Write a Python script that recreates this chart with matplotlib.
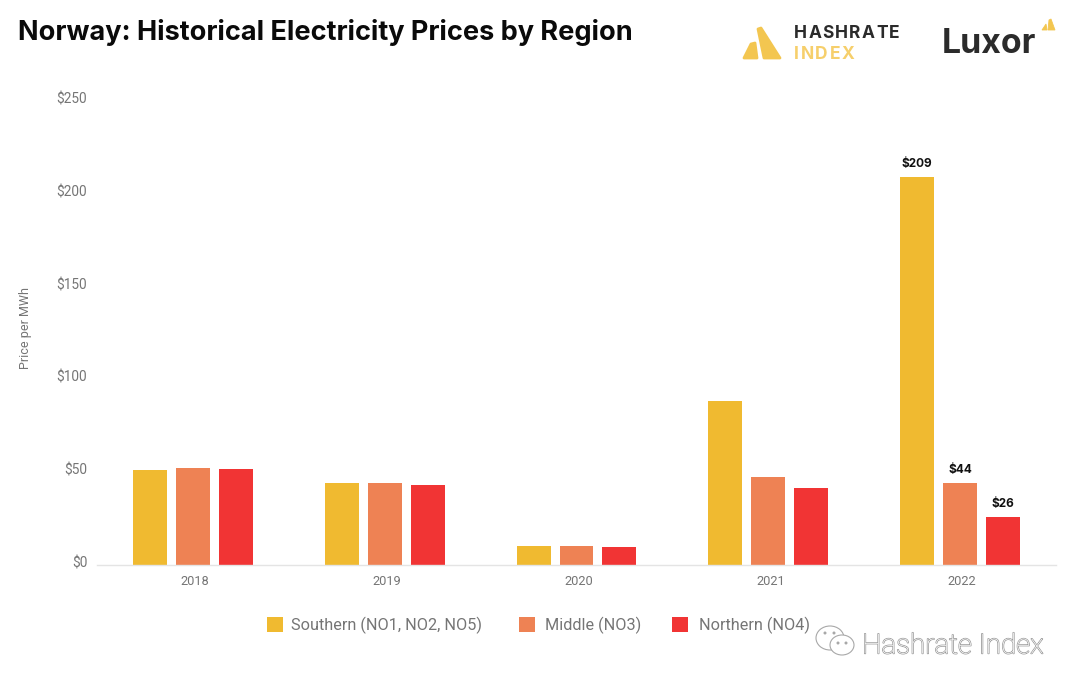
import matplotlib
matplotlib.use('Agg')
import matplotlib.pyplot as plt
import matplotlib.patheffects as pe
from matplotlib.patches import Polygon, Ellipse, Rectangle
from matplotlib.transforms import ScaledTranslation
import numpy as np

years = ['2018', '2019', '2020', '2021', '2022']
southern = [51.2, 44, 10, 88.5, 209]
middle = [52.1, 44, 10, 47.2, 44]
northern = [51.6, 43, 9.8, 41.6, 26]
series_names = ['Southern (NO1, NO2, NO5)', 'Middle (NO3)', 'Northern (NO4)']
colors = ['#F0BA30', '#EE8254', '#F13434']
yticks = [0, 50, 100, 150, 200, 250]
labels_2022 = ['$209', '$44', '$26']

W, H = 1080, 688
plt.rcParams['font.family'] = ['Roboto', 'DejaVu Sans']
plt.rcParams['text.parse_math'] = False

fig = plt.figure(figsize=(W / 100, H / 100), dpi=100, facecolor='white')
ax = fig.add_axes([97 / W, 1 - 565 / H, 959 / W, 464 / H])

x = np.arange(len(years))
width = 0.177
step = 0.224
for i, vals in enumerate([southern, middle, northern]):
    ax.bar(x + (i - 1) * step, vals, width, color=colors[i], label=series_names[i])

# 2022だけ値ラベルあり
for i, vals in enumerate([southern, middle, northern]):
    ax.annotate(labels_2022[i], (x[4] + (i - 1) * step, vals[4]), xytext=(0, 9.4),
                textcoords='offset points', ha='center', va='center',
                fontsize=8.5, fontweight='bold', color='#111111',
                family=['Inter', 'DejaVu Sans'])

ax.set_xlim(-0.5, 4.5)
ax.set_ylim(0, 250)
ax.set_xticks(x)
ax.set_xticklabels(years)
ax.set_yticks(yticks)
ax.set_yticklabels([f'${v}' for v in yticks])
ax.tick_params(axis='both', length=0, labelcolor='#757575')
ax.tick_params(axis='x', pad=7, labelsize=9.2)
ax.tick_params(axis='y', pad=7, labelsize=9.8)
# 目盛りラベルは少しずれている
for lab in ax.get_yticklabels():
    lab.set_transform(lab.get_transform() + ScaledTranslation(0, 3 / 100, fig.dpi_scale_trans))
for lab in ax.get_xticklabels():
    lab.set_transform(lab.get_transform() + ScaledTranslation(2 / 100, 0, fig.dpi_scale_trans))
for s in ['top', 'right', 'left']:
    ax.spines[s].set_visible(False)
ax.spines['bottom'].set_color('#E4E4E4')
ax.spines['bottom'].set_linewidth(1)

fig.text(26 / W, 1 - 328 / H, 'Price per MWh', rotation=90, ha='center', va='center',
         fontsize=9, color='#757575')

# 凡例は間隔が不揃いなので手で置く
legend_x = [267, 519, 672]
for i, name in enumerate(series_names):
    fig.add_artist(Rectangle((legend_x[i] / W, 1 - 632 / H), 16 / W, 15 / H,
                             transform=fig.transFigure, facecolor=colors[i], edgecolor='none'))
    fig.text((legend_x[i] + (24 if i == 0 else 26 if i == 1 else 27)) / W, 1 - 625.5 / H, name,
             ha='left', va='center', fontsize=11.7, color='#757575')

fig.text(18 / W, 1 - 33 / H, 'Norway: Historical Electricity Prices by Region', ha='left', va='center',
         fontsize=19.5, fontweight='bold', color='#0A0A0A', family=['Inter', 'DejaVu Sans'])


def px(points):
    return [(a / W, 1 - b / H) for a, b in points]


def spaced_text(text, left, base, gap, color):
    # 字間を広げたロゴ文字
    renderer = fig.canvas.get_renderer()
    pos = left
    for ch in text:
        t = fig.text(pos / W, 1 - base / H, ch, ha='left', va='baseline', fontsize=12.5,
                     fontweight='bold', color=color, family=['Inter', 'DejaVu Sans'])
        pos = t.get_window_extent(renderer).x1 + gap


# ロゴ
yellow = '#F3C650'
for pts in ([(744, 58), (751, 44), (755, 43), (757, 58)],
            [(758, 29), (761, 28), (780, 58), (764, 58)]):
    fig.add_artist(Polygon(px(pts), closed=True, transform=fig.transFigure, facecolor=yellow,
                           edgecolor=yellow, linewidth=2, joinstyle='round'))
spaced_text('HASHRATE', 794, 38, 1.2, '#2B2B2B')
spaced_text('INDEX', 794, 59, 1.6, '#F6CF6B')
fig.text(942 / W, 1 - 44 / H, 'Luxor', ha='left', va='center', fontsize=24.3, fontweight='bold',
         color='#2B2B2B', family=['Inter', 'DejaVu Sans'])
for pts in ([(1042, 30), (1046, 24), (1047, 30)], [(1048, 30), (1049, 20), (1051, 19), (1055, 30)]):
    fig.add_artist(Polygon(px(pts), closed=True, transform=fig.transFigure, facecolor=yellow,
                           edgecolor=yellow, linewidth=0.6))

# 透かし
wm = fig.text(862 / W, 1 - 646 / H, 'Hashrate Index', ha='left', va='center', fontsize=20,
              color='white', fontweight='light')
wm.set_path_effects([pe.withStroke(linewidth=1.0, foreground='#9A9A9A')])
for cx, cy, w, h in [(830, 638, 28, 24), (842, 645, 24, 20)]:
    fig.add_artist(Ellipse((cx / W, 1 - cy / H), w / W, h / H, transform=fig.transFigure,
                           facecolor='white', edgecolor='#A8A8A8', linewidth=0.8))
for cx, cy in [(825, 633), (834, 633), (838, 643), (846, 643)]:
    fig.add_artist(Ellipse((cx / W, 1 - cy / H), 3 / W, 3 / H, transform=fig.transFigure,
                           facecolor='#A8A8A8', edgecolor='none'))

fig.savefig('out.png', dpi=100, facecolor='white')
